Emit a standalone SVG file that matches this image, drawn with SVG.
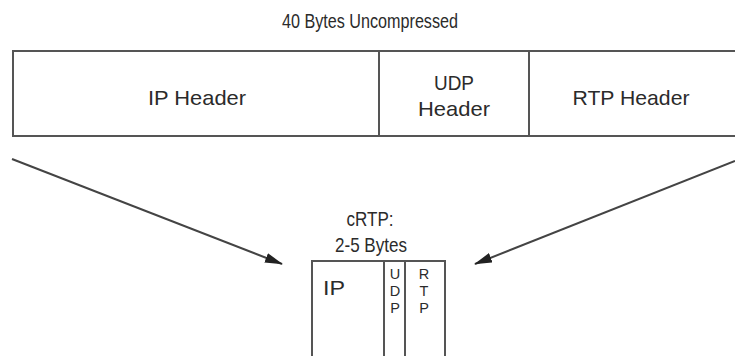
<svg xmlns="http://www.w3.org/2000/svg" width="735" height="356" viewBox="0 0 735 356">
<defs>
<style>
text{font-family:"Liberation Sans",Arial,sans-serif;font-size:21px;fill:#2b2b2b;text-anchor:middle}
.sm{font-size:14.5px}
.box{fill:#fff;stroke:#555;stroke-width:2}
.div{stroke:#555;stroke-width:2}
.conn{stroke:#444;stroke-width:2;fill:none}
</style>
<marker id="ah" viewBox="0 0 18 10" refX="17" refY="5" markerWidth="18" markerHeight="10" markerUnits="userSpaceOnUse" orient="auto">
<path d="M0,0 L18,5 L0,10 z" fill="#222"/>
</marker>
</defs>
<rect width="735" height="356" fill="#fff"/>
<text x="370" y="28" textLength="176" lengthAdjust="spacingAndGlyphs">40 Bytes Uncompressed</text>
<g id="uncompressed">
<rect class="box" x="13" y="51" width="730" height="85"/>
<g id="ip-header">
<text x="197" y="105" textLength="98" lengthAdjust="spacingAndGlyphs">IP Header</text>
</g>
<g id="udp-header">
<line class="div" x1="379" y1="51" x2="379" y2="136"/>
<text x="454" y="90" textLength="40" lengthAdjust="spacingAndGlyphs">UDP</text>
<text x="454" y="116" textLength="72" lengthAdjust="spacingAndGlyphs">Header</text>
</g>
<g id="rtp-header">
<line class="div" x1="529" y1="51" x2="529" y2="136"/>
<text x="631" y="105" textLength="117" lengthAdjust="spacingAndGlyphs">RTP Header</text>
</g>
</g>
<g id="connectors">
<line class="conn" x1="12" y1="159" x2="282" y2="264" marker-end="url(#ah)"/>
<line class="conn" x1="735" y1="161" x2="475" y2="264" marker-end="url(#ah)"/>
</g>
<g id="crtp">
<text x="370" y="226" textLength="47" lengthAdjust="spacingAndGlyphs">cRTP:</text>
<text x="371" y="252" textLength="72" lengthAdjust="spacingAndGlyphs">2-5 Bytes</text>
<rect class="box" x="312" y="261" width="133" height="110"/>
<line class="div" x1="384" y1="261" x2="384" y2="356"/>
<line class="div" x1="405" y1="261" x2="405" y2="356"/>
<text x="334" y="295" textLength="22" lengthAdjust="spacingAndGlyphs">IP</text>
<text class="sm"><tspan x="395" y="279">U</tspan><tspan x="395" y="296">D</tspan><tspan x="395" y="313">P</tspan></text>
<text class="sm"><tspan x="424" y="279">R</tspan><tspan x="424" y="296">T</tspan><tspan x="424" y="313">P</tspan></text>
</g>
</svg>
